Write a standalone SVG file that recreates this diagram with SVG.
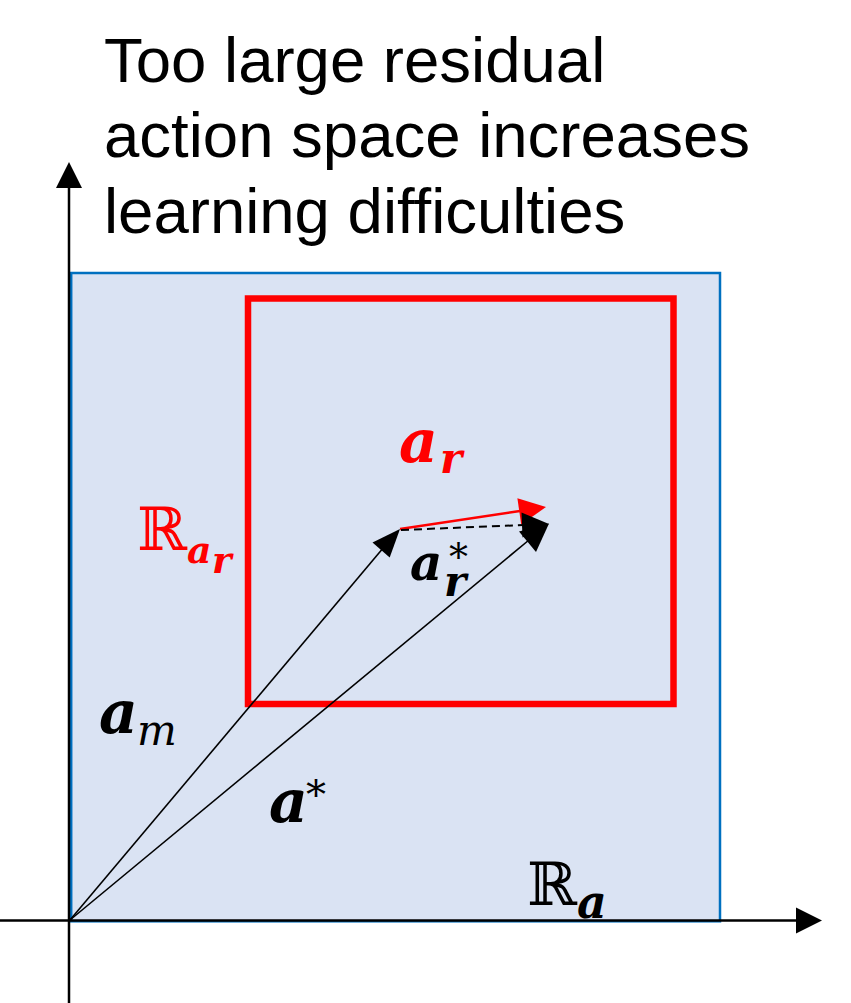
<svg xmlns="http://www.w3.org/2000/svg" width="851" height="1003" viewBox="0 0 851 1003">
<style>
.title{font-family:"Liberation Sans",Arial,sans-serif;font-size:63.5px;fill:#000}
.mb{font-family:"DejaVu Serif",serif;font-weight:bold;font-style:italic}
.mi{font-family:"DejaVu Serif",serif;font-style:italic}
.mr{font-family:"DejaVu Serif","DejaVu Sans",serif}
.red{fill:#FF0000}
.blk{fill:#000}
.axis{stroke:#000;stroke-width:2.5;fill:none}
.vec{stroke:#000;stroke-width:1.6;fill:none}
</style>
<rect width="851" height="1003" fill="#FFFFFF"/>
<g id="title">
<text class="title" x="104" y="81.5">Too large residual</text>
<text class="title" x="104" y="157">action space increases</text>
<text class="title" x="104" y="233">learning difficulties</text>
</g>
<g id="region-a">
<rect x="71.2" y="273" width="648.8" height="648.3" fill="#DAE3F3" stroke="#0070C0" stroke-width="2.5"/>
</g>
<g id="axes">
<line class="axis" x1="69" y1="1003" x2="69" y2="186"/>
<polygon points="69,162 56,188 82,188" fill="#000"/>
<line class="axis" x1="0" y1="920.5" x2="798" y2="920.5"/>
<polygon points="822,920.5 796,907.5 796,933.5" fill="#000"/>
</g>
<g id="region-ar">
<rect x="248" y="298.5" width="425.5" height="405.5" fill="none" stroke="#FF0000" stroke-width="6.5"/>
</g>
<g id="connectors">
<g id="vec-ar">
<line x1="400" y1="529" x2="520" y2="511" stroke="#FF0000" stroke-width="2.5"/>
<polygon points="546,507 521.2,524.5 517.4,498.3" fill="#FF0000"/>
</g>
<g id="vec-ar-star">
<line x1="401" y1="530" x2="524" y2="525" stroke="#000" stroke-width="2" stroke-dasharray="8,5"/>
<polygon points="549,524 521.5,512.5 522.5,537.5" fill="#000"/>
</g>
<g id="vec-am">
<line class="vec" x1="70" y1="920" x2="384" y2="547"/>
<polygon points="400,529 389.7,557.5 372.5,542.5" fill="#000"/>
</g>
<g id="vec-astar">
<line class="vec" x1="70" y1="920" x2="529" y2="540"/>
<polygon points="549,523.5 536,552 519,531.5" fill="#000"/>
</g>
</g>
<g id="labels">
<g id="label-ar"><text class="mb red" x="399" y="462" font-size="60">a</text><text class="mb red" x="440" y="473" font-size="42">r</text></g>
<g id="label-Rar"><text class="mr red" x="137" y="550" font-size="60">ℝ</text><text class="mb red" x="187" y="563" font-size="38">a</text><text class="mb red" x="212" y="573" font-size="37">r</text></g>
<g id="label-arstar"><text class="mb blk" x="410" y="580" font-size="50">a</text><text class="mr blk" x="449" y="570" font-size="38">*</text><text class="mb blk" x="444" y="596" font-size="42">r</text></g>
<g id="label-am"><text class="mb blk" x="99" y="733" font-size="60">a</text><text class="mi blk" x="137" y="745" font-size="42">m</text></g>
<g id="label-astar"><text class="mb blk" x="269" y="822" font-size="60">a</text><text class="mr blk" x="306" y="808" font-size="40">*</text></g>
<g id="label-Ra"><text class="mr blk" x="527" y="905" font-size="60">ℝ</text><text class="mb blk" x="577" y="918" font-size="46">a</text></g>
</g>
</svg>
